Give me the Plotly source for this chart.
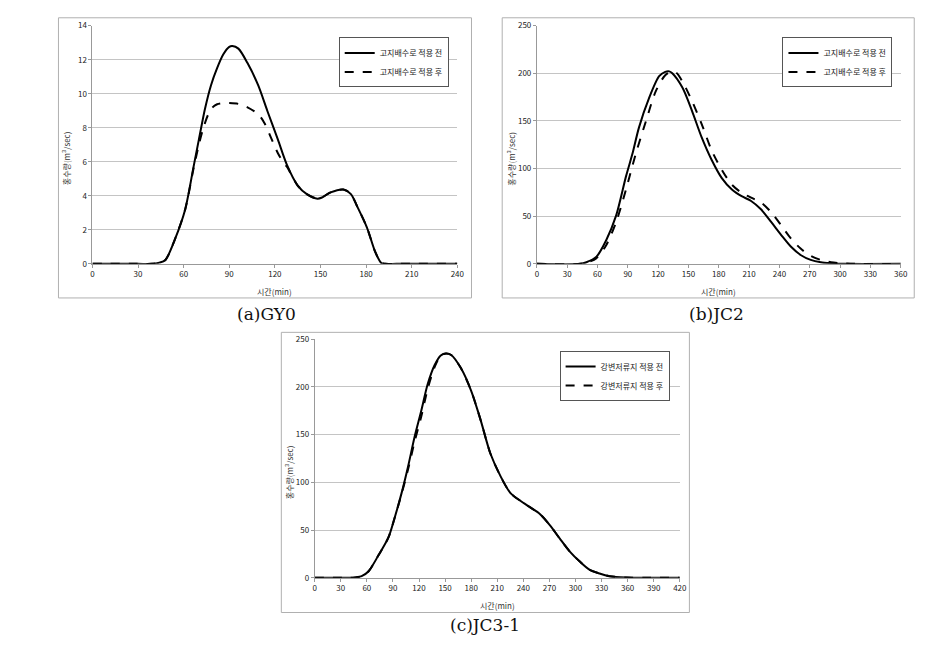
import plotly.graph_objects as go

W, H = 947, 647

# ---------------- data ----------------
# (a) GY0
a_t_before = [0, 30, 39, 44, 48, 54.5, 61, 66.5, 70, 74, 78, 82, 86, 90, 92, 96, 102, 109, 115, 122, 128, 135, 141, 148, 151, 156.6, 165, 170, 174, 180.5, 186, 190, 192.5, 200, 240]
a_q_before = [0, 0, 0, 0.07, 0.23, 1.5, 3.2, 5.7, 7.3, 9.1, 10.5, 11.5, 12.3, 12.75, 12.8, 12.65, 11.8, 10.5, 9.0, 7.3, 5.8, 4.6, 4.1, 3.83, 3.9, 4.2, 4.37, 4.1, 3.4, 2.15, 0.7, 0.05, 0, 0, 0]
a_t_after = [0, 30, 39, 44, 48, 54.5, 61, 66.5, 70, 73, 76, 79, 82, 86, 90, 96, 102, 109, 113, 117.5, 122, 126, 128, 135, 141, 148, 151, 156.6, 165, 170, 174, 180.5, 186, 190, 192.5, 200, 240]
a_q_after = [0, 0, 0, 0.07, 0.23, 1.5, 3.2, 5.6, 7.0, 8.0, 8.75, 9.2, 9.38, 9.45, 9.45, 9.4, 9.2, 8.8, 8.3, 7.4, 6.5, 5.9, 5.7, 4.6, 4.1, 3.83, 3.9, 4.2, 4.37, 4.1, 3.4, 2.15, 0.7, 0.05, 0, 0, 0]

# (b) JC2
b_t_before = [0, 42.5, 49, 59, 68.6, 78.4, 88.2, 94.7, 101, 111, 121, 127, 131, 134, 144, 153.5, 163, 173, 183, 193, 202.6, 212, 222, 232, 242, 251.5, 261, 271, 281, 291, 304, 360]
b_q_before = [0, 0, 1.7, 7.6, 24.8, 50.6, 91.8, 116, 143, 174, 197, 201.5, 202, 200, 185, 160.6, 133, 109, 90, 78, 71, 66, 57, 43.7, 30, 17.9, 9.3, 4.1, 1.7, 0.7, 0, 0]
b_t_after = [0, 44, 50, 59, 68.6, 78.4, 88.2, 98, 108, 117.6, 127, 134, 138, 144, 153.5, 163, 173, 183, 193, 202.6, 212, 222, 232, 242, 251.5, 261, 271, 281, 291, 300.5, 313.6, 360]
b_q_after = [0, 0, 1.5, 6.0, 19.6, 43.7, 78, 116, 150, 181, 198, 202, 200.5, 191.5, 171, 147, 119, 98.7, 83, 74.6, 69.5, 64.3, 54, 40, 26.5, 16, 8.3, 4.1, 1.7, 0.7, 0, 0]

# (c) JC3-1
c_t_before = [0, 35, 46.7, 54, 62, 73, 84.7, 92, 100, 107.5, 115, 122.6, 130, 138, 145, 151, 157, 168, 180, 191, 202, 214, 225, 236.6, 248, 259, 270.7, 282, 293.5, 305, 316, 327.7, 339, 358, 380, 420]
c_q_before = [0, 0, 0.3, 1.7, 6.9, 23, 42, 63, 89, 117, 148, 175, 203, 223, 233, 235, 233.5, 220, 196, 165, 130.5, 106, 89, 80.7, 73.8, 67, 55, 41, 27.5, 17, 8.6, 4.5, 1.7, 0.3, 0, 0]
c_t_after = [0, 35, 46.7, 54, 62, 73, 84.7, 92, 100, 107.5, 115, 122.6, 130, 138, 145, 151, 157, 168, 180, 191, 202, 214, 225, 236.6, 248, 259, 270.7, 282, 293.5, 305, 316, 327.7, 339, 358, 380, 420]
c_q_after = [0, 0, 0.3, 1.7, 6.9, 23, 42, 63, 88, 114, 143, 169, 198, 221, 233, 235, 233.5, 220, 196, 165, 130.5, 106, 89, 80.7, 73.8, 67, 55, 41, 27.5, 17, 8.6, 4.5, 1.7, 0.3, 0, 0]

names_ab = ["고지배수로 적용 전", "고지배수로 적용 후"]
names_c = ["강변저류지 적용 전", "강변저류지 적용 후"]
captions = ["(a)GY0", "(b)JC2", "(c)JC3-1"]
x_title = "시간(min)"
y_title = "홍수량(m³/sec)"

a_xticks = list(range(0, 241, 30))
a_yticks = list(range(0, 15, 2))
b_xticks = list(range(0, 361, 30))
b_yticks = list(range(0, 251, 50))
c_xticks = list(range(0, 421, 30))
c_yticks = list(range(0, 251, 50))

# ---------------- layout helpers ----------------
def px_x(p):
    return p / W

def px_y(p):
    return 1 - p / H

FONT = "Noto Sans CJK KR"
TICK_FONT = dict(family=FONT, size=8, color="#222222")

panels = [
    dict(plot=(91.3, 20, 459.7, 262.3), box=(57, 12, 474, 297), leg=(451, 32),
         tx=a_xticks, ty=a_yticks, xr=240, yr=14, names=names_ab,
         data=[(a_t_before, a_q_before), (a_t_after, a_q_after)], cap=(267, 313)),
    dict(plot=(540, 20, 907.3, 262.3), box=(505, 12, 921, 297), leg=(899, 32),
         tx=b_xticks, ty=b_yticks, xr=360, yr=250, names=names_ab,
         data=[(b_t_before, b_q_before), (b_t_after, b_q_after)], cap=(721, 313)),
    dict(plot=(315.7, 339, 684.3, 581.7), box=(282, 332, 694, 617), leg=(674, 351),
         tx=c_xticks, ty=c_yticks, xr=420, yr=250, names=names_c,
         data=[(c_t_before, c_q_before), (c_t_after, c_q_after)], cap=(488, 630)),
]

fig = go.Figure()
layout = dict(
    width=W, height=H, margin=dict(l=0, r=0, t=0, b=0),
    paper_bgcolor="white", plot_bgcolor="white",
    showlegend=True, shapes=[], annotations=[],
)

for i, p in enumerate(panels):
    n = "" if i == 0 else str(i + 1)
    xa, ya = "x" + n, "y" + n
    leg = "legend" + n
    l, t, r, b = p["plot"]
    layout["xaxis" + n] = dict(
        domain=[px_x(l), px_x(r)], range=[0, p["xr"]], anchor=ya,
        tickvals=p["tx"], ticks="outside", ticklen=3, tickcolor="#999999",
        showline=True, linecolor="#999999", linewidth=1, showgrid=False,
        zeroline=False, tickfont=TICK_FONT, fixedrange=True,
    )
    layout["yaxis" + n] = dict(
        domain=[px_y(b), px_y(t)], range=[0, p["yr"]], anchor=xa,
        tickvals=p["ty"], ticks="outside", ticklen=3, tickcolor="#999999",
        showline=True, linecolor="#999999", linewidth=1, showgrid=True,
        gridcolor="#c4c4c4", gridwidth=1, zeroline=False, tickfont=TICK_FONT,
        fixedrange=True,
    )
    lx, ly = p["leg"]
    layout[leg] = dict(
        x=px_x(lx), y=px_y(ly), xanchor="right", yanchor="top",
        bordercolor="#555555", borderwidth=1, bgcolor="white",
        font=dict(family=FONT, size=8, color="#222222"),
        itemwidth=30,
    )
    styles = [dict(color="black", width=2), dict(color="black", width=2, dash="dash")]
    for (tt, qq), nm, st in zip(p["data"], p["names"], styles):
        fig.add_trace(go.Scatter(
            x=tt, y=qq, mode="lines", name=nm, line=dict(shape="spline", smoothing=0.8, **st),
            xaxis=xa, yaxis=ya, legend=leg,
        ))
    bx0, by0, bx1, by1 = p["box"]
    layout["shapes"].append(dict(
        type="rect", xref="paper", yref="paper",
        x0=px_x(bx0), x1=px_x(bx1), y0=px_y(by1), y1=px_y(by0),
        line=dict(color="#b0b0b0", width=1), layer="below",
    ))
    layout["annotations"].append(dict(
        text=x_title, xref="paper", yref="paper", x=px_x((l + r) / 2), y=px_y(b + 28),
        showarrow=False, font=dict(family=FONT, size=8, color="#333333"),
        xanchor="center", yanchor="middle",
    ))
    layout["annotations"].append(dict(
        text=y_title, xref="paper", yref="paper", x=px_x(l - 26), y=px_y((t + b) / 2 + 14),
        showarrow=False, textangle=-90, font=dict(family=FONT, size=8, color="#333333"),
        xanchor="center", yanchor="middle",
    ))
    cx, cy = p["cap"]
    layout["annotations"].append(dict(
        text=captions[i], xref="paper", yref="paper", x=px_x(cx), y=px_y(cy),
        showarrow=False, font=dict(family="DejaVu Serif", size=17, color="#111111"),
        xanchor="center", yanchor="middle",
    ))

fig.update_layout(**layout)
fig.write_html("out.html")
